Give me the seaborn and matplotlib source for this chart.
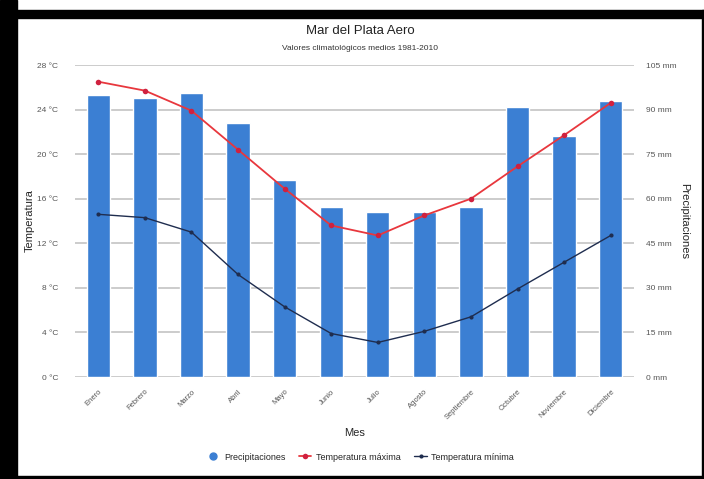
import numpy as np
import seaborn as sns
import matplotlib.pyplot as plt
from matplotlib.lines import Line2D
from matplotlib.patches import Rectangle

meses = ['Enero', 'Febrero', 'Marzo', 'Abril', 'Mayo', 'Junio', 'Julio',
         'Agosto', 'Septiembre', 'Octubre', 'Noviembre', 'Diciembre']
precipitaciones = [94.9, 93.9, 95.6, 85.5, 66.3, 57.3, 55.6, 55.6, 57.3, 91.0, 81.1, 93.0]
temp_max = [26.5, 25.7, 23.9, 20.4, 16.9, 13.6, 12.7, 14.5, 16.0, 18.9, 21.7, 24.6]
temp_min = [14.6, 14.3, 13.0, 9.2, 6.3, 3.9, 3.1, 4.1, 5.4, 7.9, 10.3, 12.7]
temp_ticks = [0, 4, 8, 12, 16, 20, 24, 28]
precip_ticks = [0, 15, 30, 45, 60, 75, 90, 105]

azul = '#3b7fd3'
rojo = '#e8373d'
navy = '#1f2d4f'
gris = '#555555'

sns.set_style('white')
plt.rcParams['font.family'] = ['Liberation Sans', 'DejaVu Sans']

fig = plt.figure(figsize=(7.04, 4.79), dpi=100)
ax = fig.add_axes([75 / 704, 1 - 377 / 479, 559 / 704, 312 / 479])
ax2 = ax.twinx()
ax2.set_zorder(ax.get_zorder() + 1)
ax2.patch.set_visible(False)
pos = np.arange(len(meses))

# barras de precipitacion en el eje principal (ticks a la derecha)
sns.barplot(x=pos, y=precipitaciones, ax=ax, color=azul, width=0.5,
            saturation=1, native_scale=True, zorder=2)
for t in precip_ticks:
    ax.axhline(t, color='#c8c8c8', lw=1.3, zorder=0)
ax.set_ylim(0, 105)
ax.set_xlim(-0.5, len(meses) - 0.5)
ax.set_xticks(pos)
ax.set_xticklabels(meses, rotation=45, ha='right', rotation_mode='anchor',
                   fontsize=5.5, color=gris)
ax.set_xticks(np.arange(-0.5, len(meses), 1), minor=True)
ax.tick_params(axis='x', which='major', length=0, pad=8)
ax.tick_params(axis='x', which='minor', length=4, color='#bbbbbb', width=0.8)
ax.set_xlabel('Mes', fontsize=8, labelpad=5)
ax.yaxis.tick_right()
ax.yaxis.set_label_position('right')
ax.set_yticks(precip_ticks)
ax.set_yticklabels([f'{v} mm' for v in precip_ticks], fontsize=6, color=gris)
ax.tick_params(axis='y', length=0, pad=9)
ax.set_ylabel('Precipitaciones', rotation=270, labelpad=9, fontsize=8)
for s in ax.spines.values():
    s.set_visible(False)

# temperaturas en el eje gemelo (ticks a la izquierda)
sns.lineplot(x=pos, y=temp_max, ax=ax2, color=rojo, lw=1.3, marker='o',
             markersize=4, markeredgewidth=0, markerfacecolor='#d0213f')
sns.lineplot(x=pos, y=temp_min, ax=ax2, color=navy, lw=1.0, marker='o',
             markersize=3, markeredgewidth=0)
ax2.set_ylim(0, 28)
ax2.yaxis.tick_left()
ax2.yaxis.set_label_position('left')
ax2.set_yticks(temp_ticks)
ax2.set_yticklabels([f'{v} °C' for v in temp_ticks], fontsize=6, color=gris)
ax2.tick_params(axis='y', length=0, pad=12)
ax2.set_ylabel('Temperatura', fontsize=8, labelpad=2)
for s in ax2.spines.values():
    s.set_visible(False)

fig.text(0.512, 1 - 31 / 479, 'Mar del Plata Aero', ha='center', va='center',
         fontsize=9.5, color='#222222')
fig.text(0.512, 1 - 48 / 479, 'Valores climatológicos medios 1981-2010',
         ha='center', va='center', fontsize=6, color='#333333')

handles = [
    Line2D([], [], ls='none', marker='o', color=azul, markersize=5),
    Line2D([], [], color=rojo, lw=1.3, marker='o', markersize=4,
           markerfacecolor='#d0213f', markeredgewidth=0),
    Line2D([], [], color=navy, lw=1.0, marker='o', markersize=3,
           markeredgewidth=0),
]
fig.legend(handles, ['Precipitaciones', 'Temperatura máxima', 'Temperatura mínima'],
           loc='center', bbox_to_anchor=(0.512, 1 - 457 / 479), ncol=3,
           frameon=False, fontsize=6.5, handlelength=1.4, columnspacing=1.5,
           handletextpad=0.5)

# marco negro del recuadro
for (x0, y0, w, h) in [(0, 0, 17, 479), (0, 10, 704, 8), (0, 476, 704, 3), (702, 10, 2, 469)]:
    fig.patches.append(Rectangle((x0 / 704, 1 - (y0 + h) / 479), w / 704, h / 479,
                                 transform=fig.transFigure, color='black',
                                 zorder=10))

fig.savefig('out.png', dpi=100)
